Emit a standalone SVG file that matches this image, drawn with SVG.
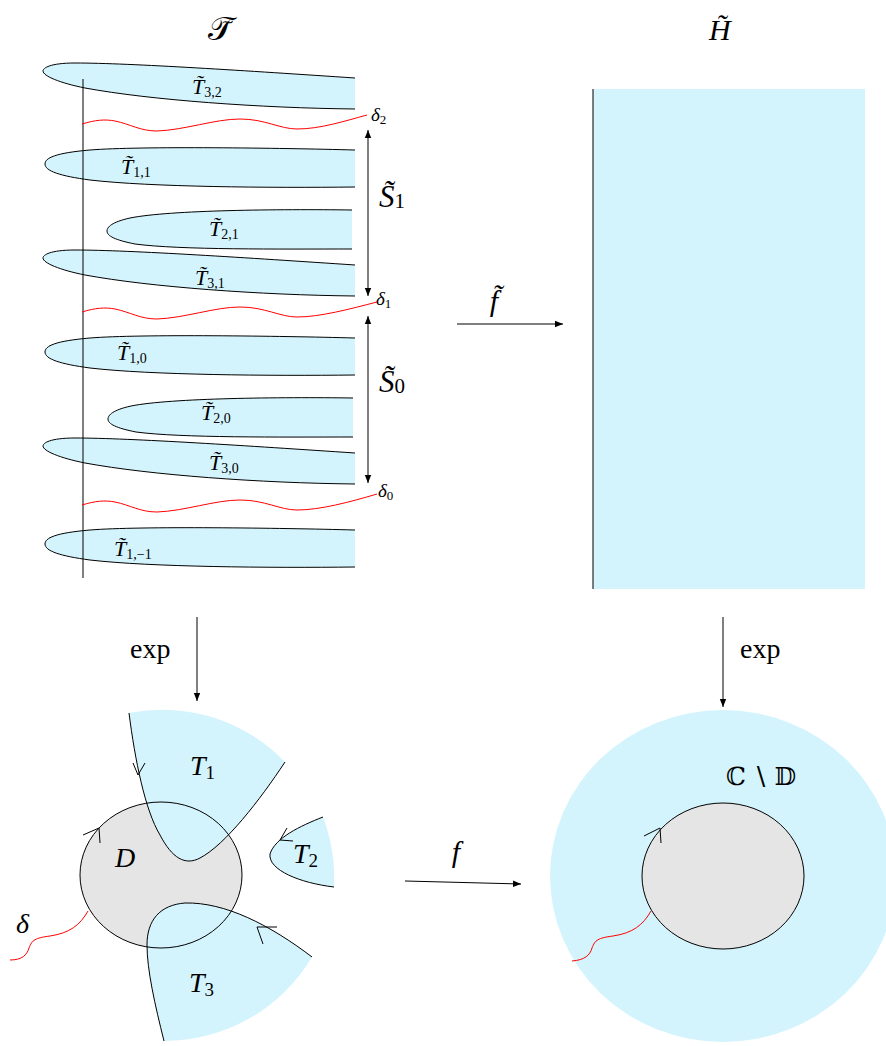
<svg xmlns="http://www.w3.org/2000/svg" width="886" height="1046" viewBox="0 0 886 1046">
<style>
.tr{fill:#d4f4fd;stroke:none}
.ed{fill:none;stroke:#000;stroke-width:1}
.rd{fill:none;stroke:#ff0000;stroke-width:1}
.ln{fill:none;stroke:#000;stroke-width:1}
.m{font-family:"Liberation Serif","DejaVu Serif",serif;fill:#000}
.i{font-style:italic}
</style>
<defs>
<marker id="ah" viewBox="0 0 10 10" refX="10" refY="5" markerWidth="8" markerHeight="8" markerUnits="userSpaceOnUse" orient="auto-start-reverse">
<path d="M0,1 L10,5 L0,9 Z" fill="#000"/>
</marker>
<path id="t3" d="M355,78 C250,71 130,63 75,63 C50,63 43,68 43,71 C43,76 60,83 85,88 C150,100 260,108 355,109"/>
<path id="t1" d="M355,150 C280,148 140,146 90,150 C55,153 45,158 45,164 C45,171 60,176 90,180 C150,187 270,188 355,187"/>
<path id="t2" d="M352,210 C280,209 170,210 130,218 C112,222 107,227 107,231 C107,236 115,240 135,244 C180,250 280,249 352,249"/>
</defs>

<!-- Top-left: lifted tracts -->
<g id="tracts">
<g id="T32"><use href="#t3" class="tr"/><use href="#t3" class="ed"/></g>
<g id="T11"><use href="#t1" class="tr"/><use href="#t1" class="ed"/></g>
<g id="T21"><use href="#t2" class="tr"/><use href="#t2" class="ed"/></g>
<g id="T31" transform="translate(0,187)"><use href="#t3" class="tr"/><use href="#t3" class="ed"/></g>
<g id="T10" transform="translate(0,188)"><use href="#t1" class="tr"/><use href="#t1" class="ed"/></g>
<g id="T20" transform="translate(1,188)"><use href="#t2" class="tr"/><use href="#t2" class="ed"/></g>
<g id="T30" transform="translate(0,375)"><use href="#t3" class="tr"/><use href="#t3" class="ed"/></g>
<g id="T1m1" transform="translate(0,380)"><use href="#t1" class="tr"/><use href="#t1" class="ed"/></g>
</g>

<g id="axis"><line x1="83" y1="79" x2="83" y2="578" class="ln"/></g>

<g id="deltas">
<path class="rd" d="M82,124 C95,120 105,119 115,121 C130,124 140,131 157,131 C185,130 215,119 240,119 C265,119 280,129 297,129 C320,129 345,121 367,115"/>
<path class="rd" d="M82,312 C95,308 105,307 115,309 C130,312 140,319 157,319 C185,318 215,307 240,307 C265,307 280,317 297,317 C320,317 350,309 377,302"/>
<path class="rd" d="M82,505 C95,501 105,500 115,502 C130,505 140,512 157,512 C185,511 215,500 240,500 C265,500 280,510 297,510 C320,510 350,502 377,494"/>
</g>

<!-- Labels top-left -->
<g id="labels-tracts">
<text x="192" y="94" class="m"><tspan class="i" font-size="22">T&#x303;</tspan><tspan font-size="14" dy="3">3,2</tspan></text>
<text x="121" y="174" class="m"><tspan class="i" font-size="22">T&#x303;</tspan><tspan font-size="14" dy="3">1,1</tspan></text>
<text x="209" y="236" class="m"><tspan class="i" font-size="22">T&#x303;</tspan><tspan font-size="14" dy="3">2,1</tspan></text>
<text x="195" y="285" class="m"><tspan class="i" font-size="22">T&#x303;</tspan><tspan font-size="14" dy="3">3,1</tspan></text>
<text x="117" y="360" class="m"><tspan class="i" font-size="22">T&#x303;</tspan><tspan font-size="14" dy="3">1,0</tspan></text>
<text x="201" y="420" class="m"><tspan class="i" font-size="22">T&#x303;</tspan><tspan font-size="14" dy="3">2,0</tspan></text>
<text x="209" y="470" class="m"><tspan class="i" font-size="22">T&#x303;</tspan><tspan font-size="14" dy="3">3,0</tspan></text>
<text x="114" y="556" class="m"><tspan class="i" font-size="22">T&#x303;</tspan><tspan font-size="14" dy="3">1,−1</tspan></text>
<text x="371" y="121" class="m"><tspan class="i" font-size="19">δ</tspan><tspan font-size="13" dy="3">2</tspan></text>
<text x="376" y="305" class="m"><tspan class="i" font-size="19">δ</tspan><tspan font-size="13" dy="3">1</tspan></text>
<text x="378" y="497" class="m"><tspan class="i" font-size="19">δ</tspan><tspan font-size="13" dy="3">0</tspan></text>
</g>

<g id="S1">
<line x1="368" y1="130" x2="368" y2="296" class="ln" marker-start="url(#ah)" marker-end="url(#ah)"/>
<text x="379" y="207" class="m"><tspan class="i" font-size="31">S&#x303;</tspan><tspan font-size="21" dy="1">1</tspan></text>
</g>
<g id="S0">
<line x1="368" y1="316" x2="368" y2="483" class="ln" marker-start="url(#ah)" marker-end="url(#ah)"/>
<text x="379" y="392" class="m"><tspan class="i" font-size="31">S&#x303;</tspan><tspan font-size="21" dy="1">0</tspan></text>
</g>

<g id="title-T">
<text x="220" y="40" class="m" font-size="33" text-anchor="middle">𝒯&#x303;</text>
</g>

<!-- Top-right: half plane -->
<g id="Htilde">
<rect x="593" y="89" width="272" height="500" fill="#d4f4fd"/>
<line x1="593" y1="89" x2="593" y2="589" class="ln" stroke-width="1.3"/>
<text x="709" y="40" class="m i" font-size="30">H&#x303;</text>
</g>

<!-- Connectors -->
<g id="connectors">
<line x1="457" y1="324" x2="563" y2="324" class="ln" marker-end="url(#ah)"/>
<line x1="197" y1="617" x2="197" y2="701" class="ln" marker-end="url(#ah)"/>
<line x1="723" y1="617" x2="723" y2="707" class="ln" marker-end="url(#ah)"/>
<line x1="405" y1="881" x2="521" y2="884" class="ln" marker-end="url(#ah)"/>
<text x="494" y="311" class="m i" font-size="30" text-anchor="middle">f&#x303;</text>
<text x="130" y="658" class="m" font-size="28">exp</text>
<text x="740" y="658" class="m" font-size="28">exp</text>
<text x="456" y="862" class="m i" font-size="30" text-anchor="middle">f</text>
</g>

<!-- Bottom-left: D with tracts -->
<g id="bottom-left">
<ellipse cx="161" cy="875" rx="81" ry="73" fill="#e5e5e5"/>
<g id="T1">
<path class="tr" d="M129,713 C135,760 145,810 160,835 C172,858 185,866 200,858 C225,845 260,800 285,762 A170,170 0 0 0 129,713 Z"/>
<path class="ed" d="M129,713 C135,760 145,810 160,835 C172,858 185,866 200,858 C225,845 260,800 285,762"/>
<polyline class="ed" points="133,763 138,775 145,763"/>
<text x="190" y="775" class="m i" font-size="28">T<tspan font-size="19" font-style="normal" dy="4">1</tspan></text>
</g>
<g id="T2">
<path class="tr" d="M323,817 C300,826 275,838 270,854 C268,870 300,883 334,887 A172,172 0 0 0 323,817 Z"/>
<path class="ed" d="M323,817 C300,826 275,838 270,854 C268,870 300,883 334,887"/>
<polyline class="ed" points="287,828 280,840 293,841"/>
<text x="293" y="863" class="m i" font-size="28">T<tspan font-size="19" font-style="normal" dy="4">2</tspan></text>
</g>
<g id="T3">
<path class="tr" d="M164,1041 C155,1005 147,970 147,945 C147,920 160,905 185,903 C225,902 270,925 312,957 A172,172 0 0 1 164,1041 Z"/>
<path class="ed" d="M164,1041 C155,1005 147,970 147,945 C147,920 160,905 185,903 C225,902 270,925 312,957"/>
<polyline class="ed" points="277,927 257,927 263,944"/>
<text x="189" y="992" class="m i" font-size="28">T<tspan font-size="19" font-style="normal" dy="4">3</tspan></text>
</g>
<g id="D">
<ellipse cx="161" cy="875" rx="81" ry="73" class="ed"/>
<polyline class="ed" points="83,835 99,828 100,843"/>
<text x="115" y="867" class="m i" font-size="28">D</text>
</g>
<g id="delta">
<path class="rd" d="M88,911 C80,925 70,933 50,936 C35,938 32,940 29,948 C27,955 22,960 10,960"/>
<text x="16" y="933" class="m i" font-size="28">δ</text>
</g>
</g>

<!-- Bottom-right: C minus D -->
<g id="bottom-right">
<ellipse cx="723" cy="876" rx="173" ry="166" fill="#d4f4fd"/>
<ellipse cx="723" cy="876" rx="81" ry="73" class="ed" style="fill:#e5e5e5"/>
<polyline class="ed" points="644,836 660,828 661,843"/>
<path class="rd" d="M651,911 C643,925 633,933 613,936 C598,938 595,940 592,948 C590,955 585,960 572,961"/>
<text x="726" y="785" class="m" font-size="25">ℂ ∖ 𝔻</text>
</g>
</svg>
